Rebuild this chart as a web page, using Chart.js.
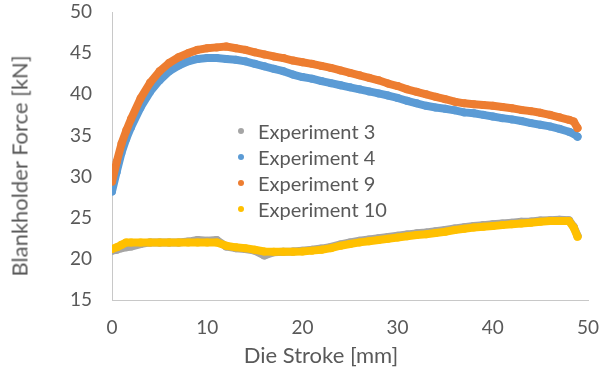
<!DOCTYPE html>
<html>
<head>
<meta charset="utf-8">
<script src="https://cdn.jsdelivr.net/npm/chart.js@4.4.0/dist/chart.umd.min.js"></script>
<style>
    body { margin: 0; background: #fff; }
    #wrap { position: relative; width: 602px; height: 373px; font-family: Lato, sans-serif; color: #595959; }
    .ytitle { position: absolute; left: 19px; top: 166px; transform: translate(-50%, -50%) rotate(-90deg); font-size: 22px; white-space: nowrap; }
    .xtitle { position: absolute; left: 321px; top: 354px; transform: translate(-50%, -50%); font-size: 22px; white-space: nowrap; }
    #legend { position: absolute; left: 238px; top: 118px; }
    .item { display: flex; align-items: center; height: 26px; font-size: 20px; }
    .dot { width: 6px; height: 6px; border-radius: 50%; margin-right: 14px; }
</style>
</head>
<body>
<div id="wrap">
    <canvas id="forceChart" width="602" height="373"></canvas>
    <div class="ytitle">Blankholder Force [kN]</div>
    <div class="xtitle">Die Stroke [mm]</div>
    <div id="legend"></div>
</div>
<script>
// die stroke positions [mm]
const strokeUpper = [0, 0.5, 1, 1.5, 2, 3, 4, 5, 6, 7, 8, 9, 10, 11, 12, 13, 14, 15, 16, 17, 18, 19, 20,
    21, 22, 23, 24, 25, 26, 27, 28, 29, 30, 31, 32, 33, 34, 35, 36, 37, 38, 39, 40, 41, 42, 43, 44, 45,
    46, 47, 48, 48.5, 48.9];
const strokeLower = [0, 0.5, 1, 1.5, 2, 3, 4, 5, 6, 7, 8, 9, 10, 11, 12, 13, 14, 15, 16, 17, 18, 19, 20,
    21, 22, 23, 24, 25, 26, 27, 28, 29, 30, 31, 32, 33, 34, 35, 36, 37, 38, 39, 40, 41, 42, 43, 44, 45,
    46, 47, 48, 48.5, 48.9];

// blankholder force [kN]
const exp3Force = [21.0, 21.1, 21.3, 21.4, 21.5, 21.8, 22.0, 22.0, 22.0, 22.0, 22.1, 22.3, 22.2, 22.3, 21.5,
    21.3, 21.2, 21.0, 20.4, 20.8, 20.85, 20.9, 21.0, 21.1, 21.25, 21.45, 21.75, 22.0, 22.2, 22.35, 22.5,
    22.65, 22.8, 22.95, 23.1, 23.2, 23.35, 23.5, 23.7, 23.85, 24.0, 24.1, 24.2, 24.3, 24.4, 24.5, 24.55,
    24.65, 24.7, 24.75, 24.7, 23.9, 22.8];
const exp4Force = [28.2, 30.6, 32.9, 34.6, 36.0, 38.4, 40.3, 41.7, 42.8, 43.5, 44.0, 44.3, 44.4, 44.4, 44.3,
    44.2, 44.0, 43.7, 43.4, 43.1, 42.8, 42.4, 42.1, 41.9, 41.6, 41.35, 41.1, 40.85, 40.6, 40.35, 40.1,
    39.85, 39.55, 39.2, 38.9, 38.6, 38.4, 38.25, 38.05, 37.8, 37.7, 37.5, 37.3, 37.1, 36.95, 36.75, 36.5,
    36.3, 36.1, 35.8, 35.45, 35.2, 34.85];
const exp9Force = [29.4, 31.8, 34.0, 35.6, 37.0, 39.5, 41.4, 42.8, 43.8, 44.5, 45.0, 45.4, 45.6, 45.7, 45.8,
    45.6, 45.4, 45.1, 44.85, 44.6, 44.4, 44.1, 43.9, 43.7, 43.45, 43.2, 42.9, 42.6, 42.3, 42.0, 41.7,
    41.3, 41.0, 40.6, 40.3, 40.0, 39.7, 39.4, 39.1, 38.9, 38.8, 38.7, 38.6, 38.45, 38.3, 38.1, 37.95,
    37.75, 37.5, 37.2, 36.9, 36.7, 35.9];
const exp10Force = [21.2, 21.4, 21.7, 22.0, 22.0, 22.0, 22.0, 22.0, 22.0, 22.0, 22.0, 22.0, 22.0, 22.0, 21.6,
    21.4, 21.3, 21.1, 20.9, 20.85, 20.85, 20.85, 20.9, 21.0, 21.1, 21.3, 21.6, 21.8, 22.0, 22.15, 22.3,
    22.45, 22.6, 22.75, 22.9, 23.0, 23.15, 23.3, 23.5, 23.65, 23.8, 23.9, 24.0, 24.1, 24.2, 24.3, 24.4,
    24.5, 24.6, 24.6, 24.6, 23.8, 22.7];

const seriesNames = ['Experiment 3', 'Experiment 4', 'Experiment 9', 'Experiment 10'];
const seriesColors = ['#a5a5a5', '#5b9bd5', '#ed7d31', '#ffc000'];

const xTicks = [0, 10, 20, 30, 40, 50];
const yTicks = [15, 20, 25, 30, 35, 40, 45, 50];

function toPoints(xs, ys) {
    return xs.map((x, i) => ({ x: x, y: ys[i] }));
}

function buildDataset(i, xs, ys) {
    return {
        label: seriesNames[i],
        data: toPoints(xs, ys),
        showLine: true,
        borderColor: seriesColors[i],
        backgroundColor: seriesColors[i],
        borderWidth: 8,
        borderCapStyle: 'round',
        borderJoinStyle: 'round',
        pointRadius: 4,
        pointBorderWidth: 0,
        pointHoverRadius: 0,
        tension: 0,
        order: 4 - i // later series drawn on top, like excel
    };
}

function buildLegend() {
    const legend = document.getElementById('legend');
    seriesNames.forEach((name, i) => {
        const item = document.createElement('div');
        item.className = 'item';
        const dot = document.createElement('span');
        dot.className = 'dot';
        dot.style.background = seriesColors[i];
        const label = document.createElement('span');
        label.textContent = name;
        item.appendChild(dot);
        item.appendChild(label);
        legend.appendChild(item);
    });
}

// tick padding also pads the chart area in chart.js, drop that so layout padding wins
function fixScale(scale, size) {
    if (scale.isHorizontal()) scale.height = size;
    else scale.width = size;
    scale.paddingTop = 0;
    scale.paddingBottom = 0;
    scale.paddingLeft = 0;
    scale.paddingRight = 0;
}

const tickFont = { family: 'Lato', size: 19 };

const ctx = document.getElementById('forceChart').getContext('2d');
const forceChart = new Chart(ctx, {
    type: 'scatter',
    data: {
        datasets: [
            buildDataset(0, strokeLower, exp3Force),
            buildDataset(1, strokeUpper, exp4Force),
            buildDataset(2, strokeUpper, exp9Force),
            buildDataset(3, strokeLower, exp10Force)
        ]
    },
    options: {
        responsive: false,
        animation: false,
        layout: { padding: { left: 0, right: 14, top: 12, bottom: 0 } },
        plugins: {
            legend: { display: false },
            tooltip: { enabled: false }
        },
        scales: {
            x: {
                type: 'linear',
                min: xTicks[0],
                max: xTicks[xTicks.length - 1],
                afterBuildTicks: scale => { scale.ticks = xTicks.map(v => ({ value: v })); },
                ticks: { color: '#595959', font: tickFont, padding: 16 },
                grid: { display: false, drawTicks: false },
                border: { display: true, color: '#c8c8c8', width: 1 },
                afterFit: scale => fixScale(scale, 73)
            },
            y: {
                type: 'linear',
                min: yTicks[0],
                max: yTicks[yTicks.length - 1],
                afterBuildTicks: scale => { scale.ticks = yTicks.map(v => ({ value: v })); },
                ticks: { color: '#595959', font: tickFont, padding: 20 },
                grid: { display: false, drawTicks: false },
                border: { display: true, color: '#c8c8c8', width: 1 },
                afterFit: scale => fixScale(scale, 112)
            }
        }
    }
});

buildLegend();
</script>
</body>
</html>
